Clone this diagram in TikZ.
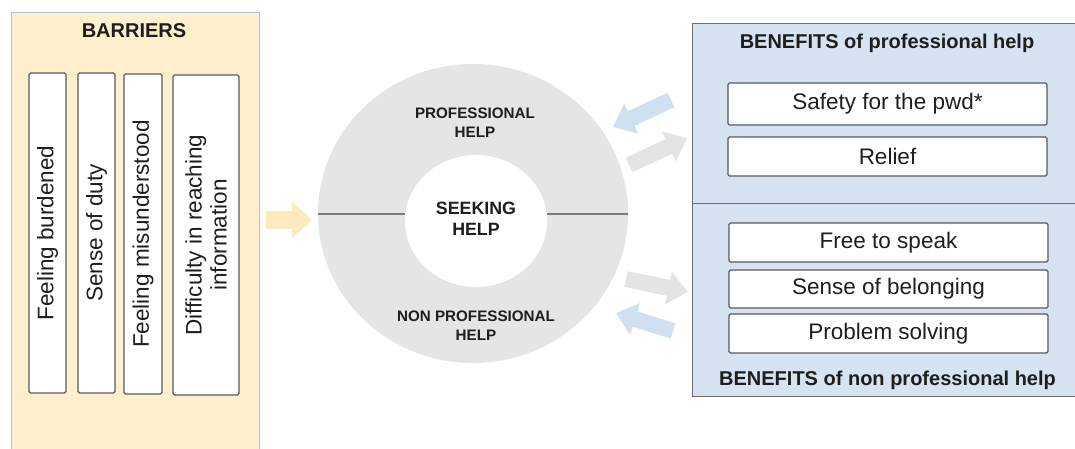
\documentclass[tikz,border=0pt]{standalone}
\usepackage{fontspec}
\setmainfont{Liberation Sans}
\usetikzlibrary{arrows.meta,shapes.geometric}
\definecolor{barfill}{HTML}{FEF0CE}
\definecolor{barline}{HTML}{B3C3D8}
\definecolor{benfill}{HTML}{D7E3F1}
\definecolor{benline}{HTML}{6E6E6E}
\definecolor{boxline}{HTML}{5A5A5A}
\definecolor{ringgray}{HTML}{E5E5E5}
\definecolor{arrblue}{HTML}{CFE0F3}
\definecolor{arrgray}{HTML}{E4E4E4}
\definecolor{arryellow}{HTML}{FDEBC0}
\definecolor{txt}{HTML}{1E1E1E}
\tikzset{
  itembox/.style={draw=boxline, line width=1.3pt, fill=white, rounded corners=1.5pt,
    inner sep=0pt, text=txt, font=\fontsize{22.5}{25}\selectfont, align=center},
  vbox/.style={itembox, rotate=90},
  title/.style={text=txt, font=\fontsize{20}{24}\selectfont\bfseries},
  ringlabel/.style={text=txt, align=center, font=\fontsize{15.2}{19}\selectfont\bfseries},
  blockarrow/.style={line width=#1, -{Triangle[width=2*#1,length=20pt]}},
}
\begin{document}
\begin{tikzpicture}[x=1pt,y=-1pt]
\clip (0,0) rectangle (1075,448);
\fill[white] (0,0) rectangle (1075,448);

% barriers panel
\draw[fill=barfill, draw=barline, line width=1pt] (11,12) rectangle (259,470);
\node[title] (bartitle) at (134,31) {BARRIERS};
\node[vbox, minimum width=320pt, minimum height=37pt] (b1) at (47.5,233) {Feeling burdened};
\node[vbox, minimum width=320pt, minimum height=37pt] (b2) at (96.5,233) {Sense of duty};
\node[vbox, minimum width=320pt, minimum height=38pt] (b3) at (143,234) {Feeling misunderstood};
\node[vbox, minimum width=320pt, minimum height=66pt] (b4) at (206,235) {Difficulty in reaching\\information};

% benefits panel
\draw[fill=benfill, draw=benline, line width=1pt] (692,23) rectangle (1090,396);
\draw[benline, line width=1pt] (692,203) -- (1090,203);
\node[title] (protitle) at (887,43) {BENEFITS of professional help};
\node[itembox, minimum width=319pt, minimum height=42pt] (p1) at (887.5,104) {Safety for the pwd*};
\node[itembox, minimum width=319pt, minimum height=39pt] (p2) at (887.5,156.5) {Relief};
\node[itembox, minimum width=319pt, minimum height=39pt] (n1) at (888.5,242.5) {Free to speak};
\node[itembox, minimum width=319pt, minimum height=38pt] (n2) at (888.5,289) {Sense of belonging};
\node[itembox, minimum width=319pt, minimum height=39pt] (n3) at (888.5,333.5) {Problem solving};
\node[title] (nontitle) at (887.5,380) {BENEFITS of non professional help};

% help-seeking ring
\node[ellipse, fill=ringgray, minimum width=310pt, minimum height=299pt, inner sep=0pt] (ring) at (473,213.5) {};
\node[ellipse, fill=white, minimum width=142pt, minimum height=132pt, inner sep=0pt] (hub) at (476,221) {};
\draw[boxline!80, line width=1.3pt] (ring.west |- 0,214) -- (hub.west |- 0,214);
\draw[boxline!80, line width=1.3pt] (hub.east |- 0,214) -- (ring.east |- 0,214);
\node[text=txt, align=center, font=\fontsize{17.8}{21}\selectfont\bfseries] (seek) at (476,219) {SEEKING\\HELP};
\node[ringlabel] (prof) at (475,123) {PROFESSIONAL\\HELP};
\node[ringlabel] (nonprof) at (476,326) {NON PROFESSIONAL\\HELP};

% block arrows
\coordinate (ya) at (266,220);  \coordinate (yb) at (312,220);
\coordinate (ta) at (671,100);  \coordinate (tb) at (613,127);
\coordinate (ga) at (629,165);  \coordinate (gb) at (687,138);
\coordinate (ha) at (626,279);  \coordinate (hb) at (688,292);
\coordinate (ka) at (673,331);  \coordinate (kb) at (616,313);
\draw[blockarrow=18pt, arryellow] (ya) -- (yb);
\draw[blockarrow=16pt, arrblue] (ta) -- (tb);
\draw[blockarrow=16pt, arrgray] (ga) -- (gb);
\draw[blockarrow=16pt, arrgray] (ha) -- (hb);
\draw[blockarrow=16pt, arrblue] (ka) -- (kb);
\end{tikzpicture}
\end{document}
